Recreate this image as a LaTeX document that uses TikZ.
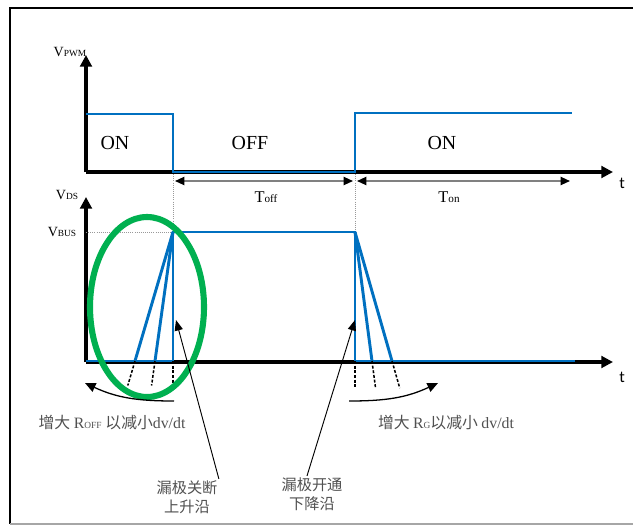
\documentclass[tikz,border=0pt]{standalone}
\usepackage{fontspec}
\setmainfont{Liberation Serif}
\newfontfamily\cjk{Noto Sans CJK SC}
\newfontfamily\calib{Carlito}
\usetikzlibrary{arrows.meta,calc}

\definecolor{wblue}{RGB}{0,112,192}
\definecolor{ringgreen}{RGB}{0,176,80}
\definecolor{txtgray}{RGB}{80,80,80}
\newcommand{\subtxt}[1]{{\fontsize{8pt}{9pt}\selectfont #1}}

\begin{document}
\begin{tikzpicture}[x=0.03cm, y=-0.03cm,
	axis/.style={line width=2.8pt, -{Triangle[length=10pt,width=10pt]}},
	wave/.style={wblue, line width=2.5pt, line join=miter},
	guide/.style={gray!80, densely dotted, line width=0.8pt},
	span/.style={gray, line width=1.4pt, {Triangle[length=8pt,width=7pt,color=black]}-{Triangle[length=8pt,width=7pt,color=black]}},
	tail/.style={dash pattern=on 2.5pt off 1.5pt, line width=1.3pt},
	note/.style={line width=0.8pt, -{Triangle[length=9pt,width=7pt]}},
	sweep/.style={line width=1.1pt, -{Triangle[length=9pt,width=8pt]}},
	lbl/.style={inner sep=1pt, font=\fontsize{12pt}{13pt}\selectfont},
	state/.style={inner sep=1pt, font=\fontsize{17pt}{19pt}\selectfont},
	cn/.style={inner sep=1pt, text=txtgray, font=\fontsize{13.5pt}{15pt}\selectfont},
	cnbig/.style={inner sep=1pt, text=txtgray, align=center, font=\fontsize{13pt}{16.5pt}\selectfont\cjk},
]
	\useasboundingbox (0,0) rectangle (633,526);
	% frame
	\draw[line width=2.4pt] (633,8) -- (10,8) -- (10,524);
	\draw[gray!70, line width=1.5pt] (10,524) -- (633,524);

	% axes
	\coordinate (O1) at (86,172);
	\coordinate (O2) at (86,362);
	\draw[axis] (O1) -- (86,55) coordinate (Ytop1);
	\draw[axis] (O1) -- (613,172) coordinate (Xend1);
	\draw[axis] (O2) -- (86,197) coordinate (Ytop2);
	\draw[axis] (O2) -- (613,362) coordinate (Xend2);

	\node[lbl] (vpwm) at (70,52) {V\subtxt{PWM}};
	\node[lbl] (vds) at (67,195) {V\subtxt{DS}};
	\node[lbl] (vbus) at (62,232) {V\subtxt{BUS}};
	\node[inner sep=1pt, font=\calib\fontsize{14pt}{15pt}\selectfont] (t1) at (622,183) {t};
	\node[inner sep=1pt, font=\calib\fontsize{14pt}{15pt}\selectfont] (t2) at (622,377) {t};

	% switching instants
	\coordinate (Aoff) at (173,172);
	\coordinate (Aon) at (355,172);
	\coordinate (Boff) at (173,232);
	\coordinate (Bon) at (355,232);
	\draw[guide] (Aoff) -- (Boff);
	\draw[guide] (Aon) -- (Bon);
	\draw[guide] (86,232) -- (Boff);

	% gate drive
	\draw[wave] (86,114) -- (173,114) -- (Aoff) -- (Aon) -- (355,113) -- (572,113);
	\node[state] (on1) at (115,143) {ON};
	\node[state] (off) at (250,143) {OFF};
	\node[state] (on2) at (442,143) {ON};

	\draw[span] (175,181) -- (353,181);
	\draw[span] (357,181) -- (570,181);
	\node[inner sep=1pt, font=\fontsize{14pt}{15pt}\selectfont] (toff) at (266,197) {T{\fontsize{9.5pt}{10pt}\selectfont off}};
	\node[inner sep=1pt, font=\fontsize{14pt}{15pt}\selectfont] (ton) at (449,197) {T{\fontsize{9.5pt}{10pt}\selectfont on}};

	% drain voltage
	\draw[wave] (86,361) -- (173,361) -- (Boff) -- (Bon) -- (355,361) -- (575,361);
	\foreach \xe in {135,155}
		\draw[wave] (Boff) -- (\xe,361);
	\foreach \xe in {372,392}
		\draw[wave] (Bon) -- (\xe,361);
	\foreach \xe in {135,155,173}
		\draw[tail] (\xe,361) -- ($(Boff)!1.19!(\xe,361)$);
	\foreach \xe in {355,372,392}
		\draw[tail] (\xe,361) -- ($(Bon)!1.21!(\xe,361)$);

	\draw[ringgreen, line width=5.2pt] (147,307) ellipse [x radius=57, y radius=90];

	% dv/dt sweeps
	\coordinate (s1a) at (174,401);
	\coordinate (s1b) at (85,383);
	\coordinate (s2a) at (349,401);
	\coordinate (s2b) at (438,383);
	\draw[sweep] (s1a) to[out=180, in=-25] (s1b);
	\draw[sweep] (s2a) to[out=0, in=205] (s2b);
	\node[cn] (roff) at (112,423) {\cjk 增大 \rmfamily R\subtxt{OFF} \cjk 以减小\rmfamily dv/dt};
	\node[cn] (rg) at (446,423) {\cjk 增大 \rmfamily R\subtxt{G}\cjk 以减小 \rmfamily dv/dt};

	% edge notes
	\coordinate (offEdge) at (176,320);
	\coordinate (onEdge) at (355,320);
	\node[cnbig] (offTxt) at (187,497) {漏极关断\\上升沿};
	\node[cnbig] (onTxt) at (312,494) {漏极开通\\下降沿};
	\draw[note] (offTxt.north east) -- (offEdge);
	\draw[note] ($(onTxt.north)+(-5,0)$) -- (onEdge);
\end{tikzpicture}
\end{document}
